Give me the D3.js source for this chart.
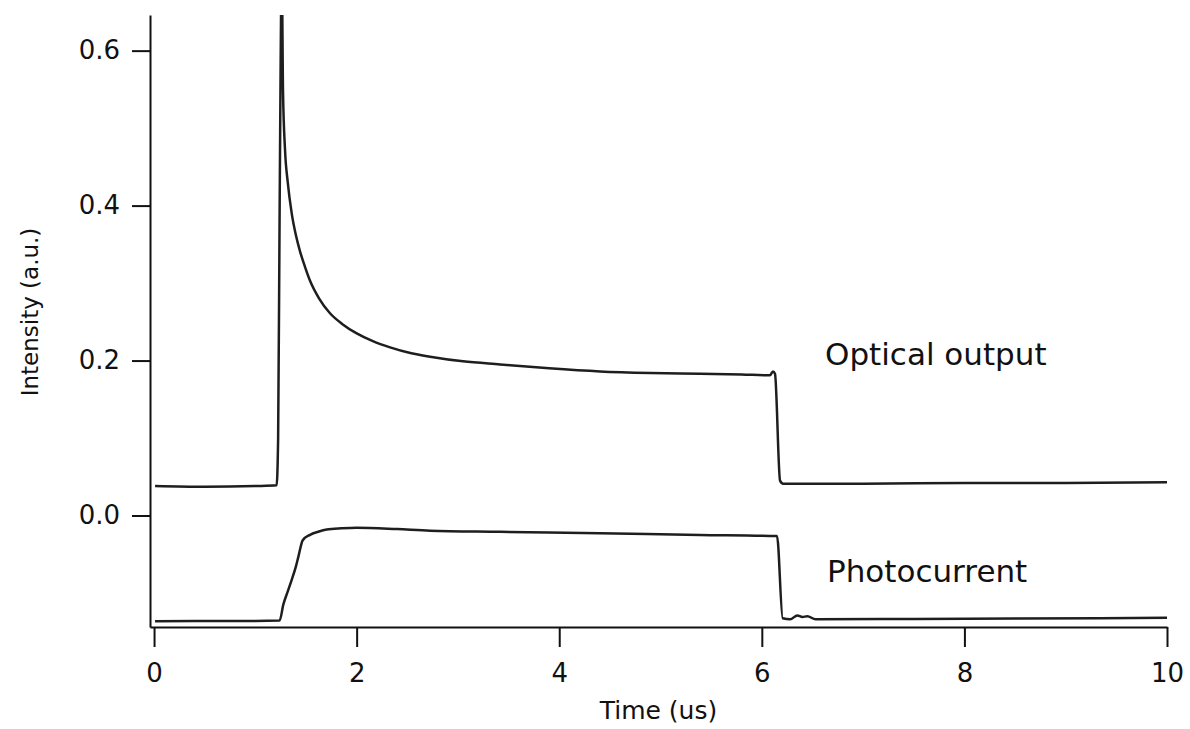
<!DOCTYPE html>
<html>
<head>
<meta charset="utf-8">
<script src="https://cdn.jsdelivr.net/npm/d3@7"></script>
<style>
  html, body { margin: 0; padding: 0; background: #fff; }
  svg { display: block; }
  text { font-family: "DejaVu Sans", Verdana, sans-serif; fill: #111; }
</style>
</head>
<body>
<svg id="chart" width="1190" height="729"></svg>
<script>
// ---- data ----
const opticalTime  = [0.01, 0.5, 1.0, 1.21, 1.225, 1.24, 1.261, 1.273, 1.293, 1.32, 1.359, 1.40, 1.441, 1.49, 1.54, 1.63, 1.737, 1.86, 2.001, 2.16, 2.33, 2.52, 2.725, 3.05, 3.416, 3.9, 4.403, 4.9, 5.39, 5.8, 6.08, 6.11, 6.13, 6.18, 6.21, 7.0, 8.0, 9.0, 10.0];
const opticalValue = [0.038, 0.037, 0.038, 0.039, 0.10, 0.40, 0.70, 0.549, 0.472, 0.430, 0.390, 0.362, 0.341, 0.321, 0.303, 0.280, 0.261, 0.247, 0.235, 0.225, 0.217, 0.210, 0.205, 0.199, 0.195, 0.190, 0.186, 0.184, 0.183, 0.182, 0.181, 0.186, 0.183, 0.045, 0.041, 0.041, 0.042, 0.042, 0.043];

const photoTime  = [0.01, 0.5, 1.0, 1.24, 1.276, 1.32, 1.359, 1.40, 1.425, 1.468, 1.54, 1.62, 1.705, 1.85, 2.001, 2.4, 2.725, 3.416, 4.40, 5.39, 6.15, 6.206, 6.28, 6.35, 6.40, 6.45, 6.53, 7.5, 8.5, 10.0];
const photoValue = [-0.1365, -0.136, -0.136, -0.1355, -0.115, -0.098, -0.083, -0.066, -0.053, -0.032, -0.025, -0.021, -0.018, -0.0165, -0.0157, -0.0175, -0.0196, -0.021, -0.023, -0.025, -0.0265, -0.1327, -0.134, -0.129, -0.131, -0.130, -0.134, -0.1335, -0.133, -0.132];

const xTicks = [0, 2, 4, 6, 8, 10];
const yTicks = [0.0, 0.2, 0.4, 0.6];
const labels = { x: "Time (us)", y: "Intensity (a.u.)", optical: "Optical output", photo: "Photocurrent" };

// ---- layout ----
const svg = d3.select("#chart");
const mLeft = 150, mRight = 1167, mTop = 15, mBottom = 627;

const x = d3.scaleLinear().domain([-0.04, 10]).range([mLeft, mRight]);
const y = d3.scaleLinear().domain([-0.1439, 0.646]).range([mBottom, mTop]);

svg.append("defs").append("clipPath").attr("id", "plot")
  .append("rect").attr("x", mLeft).attr("y", mTop).attr("width", mRight - mLeft).attr("height", mBottom - mTop);

const line = d3.line().x(d => x(d[0])).y(d => y(d[1])).curve(d3.curveMonotoneX);

const g = svg.append("g").attr("clip-path", "url(#plot)");
g.append("path")
  .datum(opticalTime.map((t, i) => [t, opticalValue[i]]))
  .attr("d", line).attr("fill", "none").attr("stroke", "#1e1e1e").attr("stroke-width", 2.5)
  .attr("stroke-linejoin", "round");
g.append("path")
  .datum(photoTime.map((t, i) => [t, photoValue[i]]))
  .attr("d", line).attr("fill", "none").attr("stroke", "#1e1e1e").attr("stroke-width", 2.5)
  .attr("stroke-linejoin", "round");

// axes
const xAxis = svg.append("g").attr("transform", `translate(0,${mBottom})`)
  .call(d3.axisBottom(x).tickValues(xTicks).tickSize(20).tickSizeOuter(0).tickPadding(17).tickFormat(d3.format("d")));
const yAxis = svg.append("g").attr("transform", `translate(${mLeft},0)`)
  .call(d3.axisLeft(y).tickValues(yTicks).tickSize(18).tickSizeOuter(0).tickPadding(12).tickFormat(d3.format(".1f")));

[xAxis, yAxis].forEach(a => {
  a.selectAll("path, line").attr("stroke", "#111").attr("stroke-width", 2);
  a.selectAll("text").attr("font-size", 26).attr("fill", "#111")
    .attr("font-family", "DejaVu Sans, Verdana, sans-serif");
});

// axis titles
svg.append("text").attr("x", (mLeft + mRight) / 2).attr("y", 719)
  .attr("text-anchor", "middle").attr("font-size", 25).text(labels.x);
svg.append("text").attr("transform", `translate(38,312) rotate(-90)`)
  .attr("text-anchor", "middle").attr("font-size", 23).text(labels.y);

// series labels
svg.append("text").attr("x", 825).attr("y", 365).attr("font-size", 31).text(labels.optical);
svg.append("text").attr("x", 827).attr("y", 582).attr("font-size", 31).text(labels.photo);
</script>
</body>
</html>
